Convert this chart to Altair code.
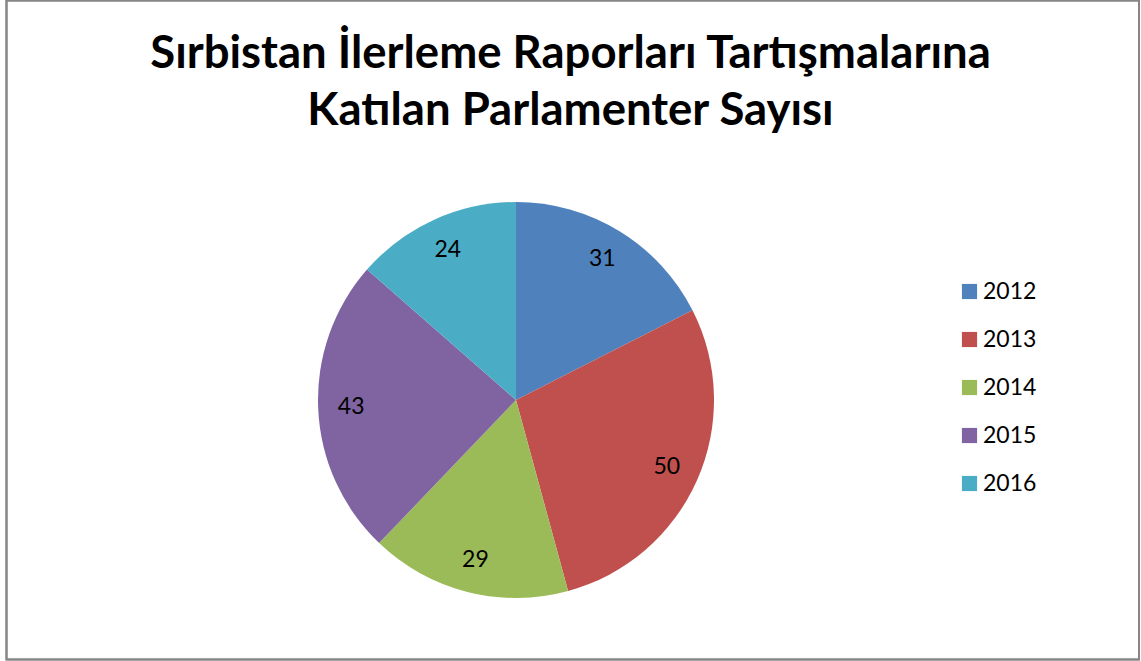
import altair as alt
import pandas as pd

years = ["2012", "2013", "2014", "2015", "2016"]
counts = [31, 50, 29, 43, 24]
colors = ["#4F81BD", "#C0504D", "#9BBB59", "#8064A2", "#4BACC6"]
title_lines = ["Sırbistan İlerleme Raporları Tartışmalarına", "Katılan Parlamenter Sayısı"]

df = pd.DataFrame({"year": years, "count": counts, "order": list(range(len(years)))})

FONT = "Lato"

base = alt.Chart(df).encode(
    theta=alt.Theta("count:Q", stack=True),
    order=alt.Order("order:Q"),
)

pie = base.mark_arc(outerRadius=198, stroke=None).encode(
    x=alt.value(516),
    y=alt.value(400),
    color=alt.Color(
        "year:N",
        scale=alt.Scale(domain=years, range=colors),
        legend=alt.Legend(
            title=None,
            orient="none",
            legendX=958,
            legendY=280,
            symbolType="square",
            symbolSize=230,
            symbolStrokeWidth=0,
            labelFontSize=23,
            labelFont=FONT,
            labelColor="#000000",
            rowPadding=24,
            labelOffset=2,
        ),
    ),
)

labels = base.mark_text(radius=165, fontSize=23, font=FONT, color="#000000").encode(
    x=alt.value(516),
    y=alt.value(400),
    text=alt.Text("count:Q"),
)

border = alt.Chart(df).mark_rect(fill=None, stroke="#868686", strokeWidth=1.5).encode(
    x=alt.value(6.5),
    x2=alt.value(1139),
    y=alt.value(0.5),
    y2=alt.value(659.5),
)

chart = alt.layer(border, pie, labels).properties(
    width=1141,
    height=661,
    padding=0,
    autosize=alt.AutoSizeParams(type="none"),
    title=alt.TitleParams(
        text=title_lines,
        font=FONT,
        fontSize=45.5,
        fontWeight="bold",
        color="#000000",
        anchor="middle",
        dx=0,
        offset=-171,
        lineHeight=57,
        baseline="alphabetic",
    ),
).configure_view(stroke=None)

chart.save("out.html", embed_options={"renderer": "svg", "actions": False})
